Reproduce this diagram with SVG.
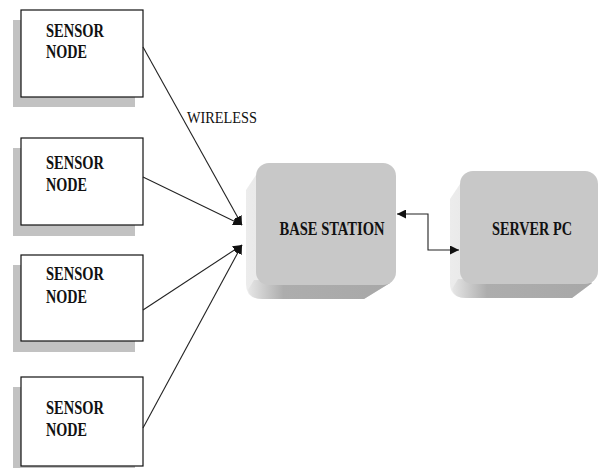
<svg xmlns="http://www.w3.org/2000/svg" width="603" height="468" viewBox="0 0 603 468">
<style>
.shadow{fill:#c2c2c2}
.box{fill:#fff;stroke:#111;stroke-width:1.2}
.lbl{font-family:"Liberation Serif","Times New Roman",serif;font-weight:bold;font-size:19px;fill:#111}
.wl{font-family:"Liberation Serif","Times New Roman",serif;font-size:17px;fill:#111}
.face{fill:#c8c8c8}
.lbev{fill:url(#lg)}
.bbev{fill:url(#bg)}
.conn{stroke:#222;stroke-width:1.1;fill:none}
</style>
<defs>
<linearGradient id="lg" x1="0" y1="0" x2="1" y2="0">
<stop offset="0" stop-color="#ececec"/>
<stop offset="1" stop-color="#d2d2d2"/>
</linearGradient>
<linearGradient id="bg" x1="0" y1="0" x2="1" y2="0">
<stop offset="0" stop-color="#e6e6e6"/>
<stop offset="0.25" stop-color="#adadad"/>
<stop offset="1" stop-color="#a8a8a8"/>
</linearGradient>
<marker id="ah" viewBox="0 0 10 10" refX="10" refY="5" markerWidth="9" markerHeight="9" markerUnits="userSpaceOnUse" orient="auto-start-reverse">
<path d="M0,0 L10,5 L0,10 Z" fill="#111"/>
</marker>
</defs>

<g id="sensor1">
<rect class="shadow" x="13" y="20" width="122" height="87"/>
<rect class="box" x="21" y="10" width="122" height="87"/>
<text class="lbl" x="46" y="37" textLength="58" lengthAdjust="spacingAndGlyphs">SENSOR</text>
<text class="lbl" x="46" y="58" textLength="41" lengthAdjust="spacingAndGlyphs">NODE</text>
</g>
<g id="sensor2">
<rect class="shadow" x="13" y="148" width="122" height="88"/>
<rect class="box" x="21" y="138" width="122" height="87"/>
<text class="lbl" x="46" y="169" textLength="58" lengthAdjust="spacingAndGlyphs">SENSOR</text>
<text class="lbl" x="46" y="191" textLength="41" lengthAdjust="spacingAndGlyphs">NODE</text>
</g>
<g id="sensor3">
<rect class="shadow" x="13" y="265" width="122" height="87"/>
<rect class="box" x="21" y="255" width="122" height="86"/>
<text class="lbl" x="46" y="280" textLength="58" lengthAdjust="spacingAndGlyphs">SENSOR</text>
<text class="lbl" x="46" y="303" textLength="41" lengthAdjust="spacingAndGlyphs">NODE</text>
</g>
<g id="sensor4">
<rect class="shadow" x="13" y="387" width="122" height="81"/>
<rect class="box" x="21" y="377" width="122" height="89"/>
<text class="lbl" x="46" y="414" textLength="58" lengthAdjust="spacingAndGlyphs">SENSOR</text>
<text class="lbl" x="46" y="436" textLength="41" lengthAdjust="spacingAndGlyphs">NODE</text>
</g>

<g id="base-station">
<path class="lbev" d="M262,166 L246,190 L246,284 Q246,299 262,299 L364,299 L390,283 L390,170 Z"/>
<path class="bbev" d="M254,280 L390,283 L364,299 L262,299 Q250,299 248,290 Z"/>
<rect class="face" x="256" y="163" width="140" height="122" rx="13" ry="13"/>
<text class="lbl" x="332" y="235" text-anchor="middle" textLength="105" lengthAdjust="spacingAndGlyphs">BASE STATION</text>
</g>

<g id="server-pc">
<path class="lbev" d="M466,175 L450,199 L450,283 Q450,298 466,298 L572,298 L592,283 L592,178 Z"/>
<path class="bbev" d="M458,279 L592,283 L572,298 L466,298 Q454,298 452,289 Z"/>
<rect class="face" x="460" y="171" width="138" height="113" rx="13" ry="13"/>
<text class="lbl" x="532" y="235" text-anchor="middle" textLength="80" lengthAdjust="spacingAndGlyphs">SERVER PC</text>
</g>

<g id="connectors">
<line class="conn" x1="143" y1="47" x2="242" y2="225" marker-end="url(#ah)"/>
<line class="conn" x1="143" y1="177" x2="242" y2="225" marker-end="url(#ah)"/>
<line class="conn" x1="143" y1="310" x2="242" y2="245" marker-end="url(#ah)"/>
<line class="conn" x1="143" y1="428" x2="242" y2="245" marker-end="url(#ah)"/>
<polyline class="conn" points="397,214 428,214 428,250 459,250" stroke-width="1.4" marker-start="url(#ah)" marker-end="url(#ah)"/>
<text class="wl" x="187" y="123" textLength="70" lengthAdjust="spacingAndGlyphs">WIRELESS</text>
</g>
</svg>
